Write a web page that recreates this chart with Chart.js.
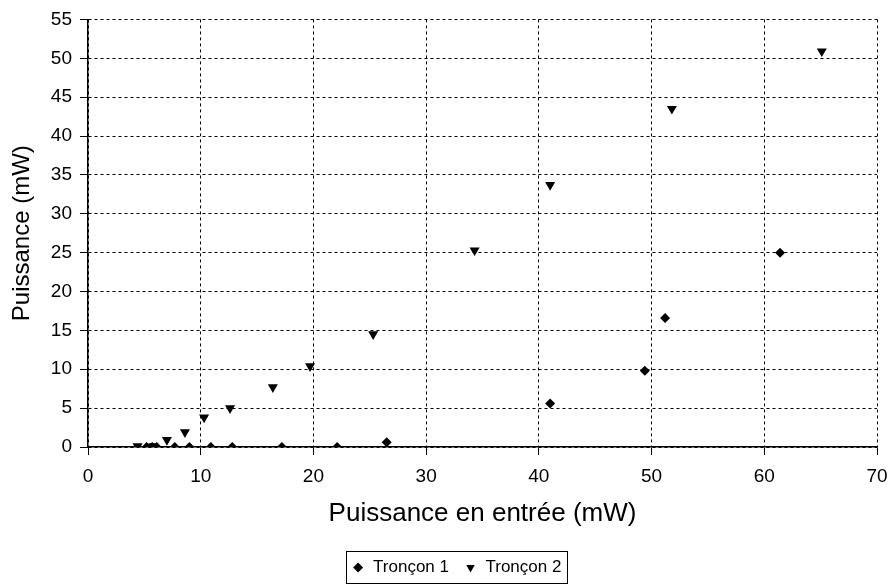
<!DOCTYPE html>
<html>
<head>
<meta charset="utf-8">
<script src="https://cdn.jsdelivr.net/npm/chart.js@4/dist/chart.umd.min.js"></script>
<style>
html,body{margin:0;padding:0;background:#fff;}
canvas{display:block;}
</style>
</head>
<body>
<canvas id="c" width="893" height="585"></canvas>
<script>
// Data
const seriesNames = ["Tronçon 1", "Tronçon 2"];
const troncon1X = [5.2, 5.7, 6.1, 7.7, 9.0, 10.9, 12.8, 17.2, 22.1, 26.5, 41.0, 49.4, 51.2, 61.4];
const troncon1Y = [0, 0, 0, 0, 0, 0, 0, 0, 0, 0.6, 5.6, 9.8, 16.6, 25.0];
const troncon2X = [4.4, 5.8, 7.0, 8.6, 10.3, 12.6, 16.4, 19.7, 25.3, 34.3, 41.0, 51.8, 65.1];
const troncon2Y = [0.1, 0.1, 0.9, 1.9, 3.8, 5.0, 7.7, 10.4, 14.5, 25.3, 33.7, 43.5, 50.9];
const xTitle = "Puissance en entrée (mW)";
const yTitle = "Puissance (mW)";

const toPoints = (xs, ys) => xs.map((x, i) => ({x: x, y: ys[i]}));

const FONT = "'Liberation Sans', Arial, sans-serif";
const PAD_BOTTOM = -1;
const PAD_LEFT = 36;
const AREA_LEFT = 88;
const AREA_BOTTOM = 447;

const legendBox = {
  id: 'legendBox',
  afterDraw(chart) {
    const lg = chart.legend;
    if (!lg || !lg.legendHitBoxes || !lg.legendHitBoxes.length) return;
    const hb = lg.legendHitBoxes;
    let l = Infinity, r = -Infinity, t = Infinity, b = -Infinity;
    hb.forEach(h => { l = Math.min(l, h.left); r = Math.max(r, h.left + h.width); t = Math.min(t, h.top); b = Math.max(b, h.top + h.height); });
    const ctx = chart.ctx;
    ctx.save();
    ctx.strokeStyle = '#000';
    ctx.lineWidth = 1;
    ctx.strokeRect(Math.round(l - 6) + 0.5, Math.round(t - 8) + 0.5, Math.round(r - l + 11), Math.round(b - t + 15));
    ctx.restore();
  }
};

new Chart(document.getElementById('c'), {
  type: 'scatter',
  data: {
    datasets: [
      {
        label: seriesNames[0],
        data: toPoints(troncon1X, troncon1Y),
        pointStyle: 'rectRot',
        pointRadius: 5,
        pointHoverRadius: 5,
        backgroundColor: '#000',
        borderColor: '#000',
        borderWidth: 0
      },
      {
        label: seriesNames[1],
        data: toPoints(troncon2X, troncon2Y),
        pointStyle: 'triangle',
        pointRotation: 180,
        pointRadius: 5.8,
        pointHoverRadius: 5.8,
        backgroundColor: '#000',
        borderColor: '#000',
        borderWidth: 0
      }
    ]
  },
  options: {
    responsive: false,
    animation: false,
    devicePixelRatio: 1,
    layout: { padding: { left: PAD_LEFT, right: 16, top: 19, bottom: PAD_BOTTOM } },
    plugins: {
      tooltip: { enabled: false },
      legend: {
        position: 'bottom',
        labels: {
          usePointStyle: true,
          boxWidth: 13,
          boxHeight: 7,
          padding: 15,
          color: '#000',
          font: { family: FONT, size: 17 }
        }
      }
    },
    scales: {
      x: {
        type: 'linear',
        min: 0, max: 70,
        ticks: { stepSize: 10, color: '#000', padding: 10, font: { family: FONT, size: 19 } },
        grid: { color: '#000', lineWidth: 1, tickLength: 8, tickColor: '#000', tickBorderDash: [] },
        border: { color: '#000', width: 1.5, dash: [3, 3] },
        title: { display: true, text: xTitle, color: '#000', font: { family: FONT, size: 26 }, padding: { top: 4, bottom: 15 } },
        afterFit(scale) {
          const ch = scale.chart;
          const lh = ch.legend ? ch.legend.height : 0;
          scale.height = ch.height - AREA_BOTTOM - lh - PAD_BOTTOM;
          scale.paddingRight = 0;
          scale.paddingLeft = 0;
        }
      },
      y: {
        type: 'linear',
        min: 0, max: 55,
        ticks: { stepSize: 5, color: '#000', padding: 8, font: { family: FONT, size: 19 } },
        grid: { color: '#000', lineWidth: 1, tickLength: 8, tickColor: '#000', tickBorderDash: [] },
        border: { color: '#000', width: 1.5, dash: [3, 3] },
        title: { display: true, text: yTitle, color: '#000', font: { family: FONT, size: 24 }, padding: { top: 8 - PAD_LEFT, bottom: 0 } },
        afterFit(scale) { scale.width = AREA_LEFT - PAD_LEFT; }
      }
    }
  },
  plugins: [legendBox]
});
</script>
</body>
</html>
